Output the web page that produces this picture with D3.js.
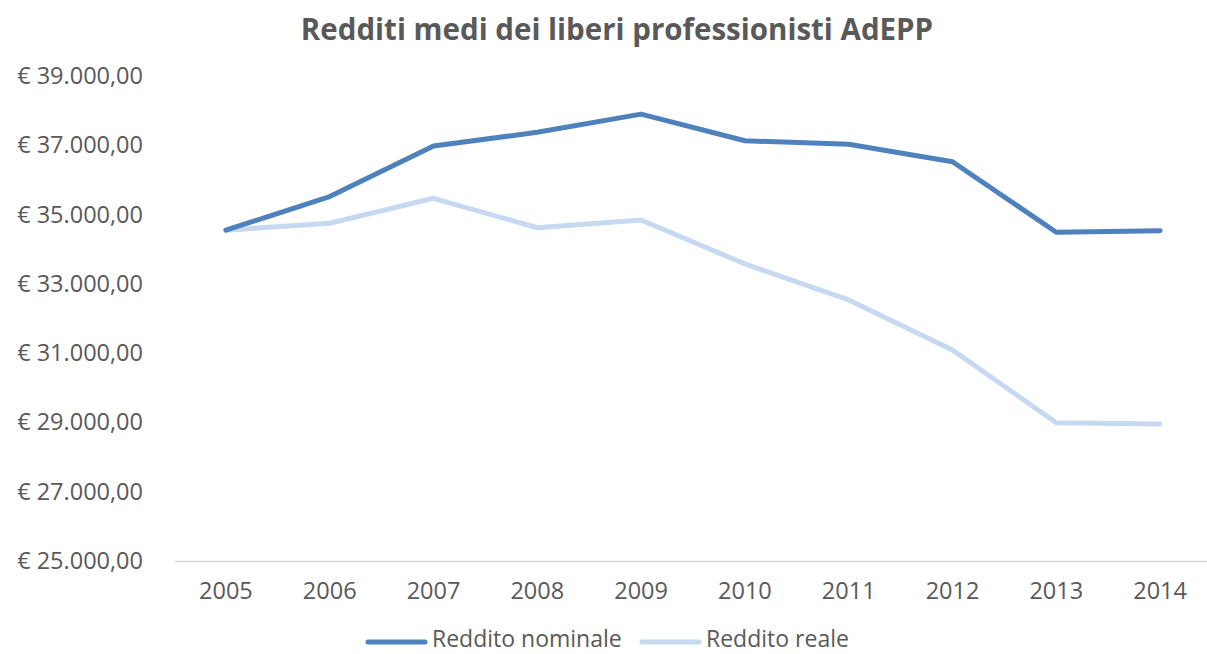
<!DOCTYPE html>
<html>
<head>
<meta charset="utf-8">
<script src="https://cdn.jsdelivr.net/npm/d3@7"></script>
<style>
  html, body { margin: 0; padding: 0; background: #fff; }
  svg { display: block; font-family: "Open Sans", sans-serif; }
</style>
</head>
<body>
<svg id="chart" width="1207" height="654"></svg>
<script>
const years = ["2005","2006","2007","2008","2009","2010","2011","2012","2013","2014"];
const nominale = [34550, 35520, 36980, 37375, 37900, 37130, 37030, 36525, 34490, 34535];
const reale = [34550, 34750, 35470, 34620, 34845, 33575, 32535, 31090, 28990, 28955];
const yTicks = [25000, 27000, 29000, 31000, 33000, 35000, 37000, 39000];
const seriesNames = ["Reddito nominale", "Reddito reale"];
const seriesColors = ["#4F81BD", "#C6D9F0"];

const svg = d3.select("#chart");
const textColor = "#595959";

const x = d3.scaleBand().domain(years).range([174, 1212]);
const y = d3.scaleLinear().domain([25000, 39000]).range([561, 76]);

const fmt = v => "€ " + d3.format(",.2f")(v).replace(/,/g, "#").replace(/\./g, ",").replace(/#/g, ".");

// title
svg.append("text")
  .attr("x", 617).attr("y", 40)
  .attr("text-anchor", "middle")
  .attr("font-size", 29.5).attr("font-weight", "bold")
  .attr("fill", textColor)
  .text("Redditi medi dei liberi professionisti AdEPP");

// y axis labels
const yAxis = d3.axisLeft(y).tickValues(yTicks).tickFormat(fmt).tickSize(0).tickPadding(0);
const gy = svg.append("g").attr("transform", "translate(143,0)").call(yAxis);
gy.select(".domain").remove();
gy.selectAll("text").attr("font-size", 23.5).attr("fill", textColor).attr("font-family", "Open Sans, sans-serif");

// x axis
const xAxis = d3.axisBottom(x).tickSize(0).tickPadding(21);
const gx = svg.append("g").attr("transform", "translate(0,561)").call(xAxis);
gx.select(".domain").attr("stroke", "#D9D9D9").attr("stroke-width", 1.3);
gx.selectAll("text").attr("font-size", 23.5).attr("fill", textColor).attr("font-family", "Open Sans, sans-serif");

const line = d3.line()
  .x((d, i) => x(years[i]) + x.bandwidth() / 2)
  .y(d => y(d));

[reale, nominale].forEach((data, k) => {
  const idx = k === 0 ? 1 : 0;
  svg.append("path")
    .datum(data)
    .attr("d", line)
    .attr("fill", "none")
    .attr("stroke", seriesColors[idx])
    .attr("stroke-width", 5)
    .attr("stroke-linejoin", "round")
    .attr("stroke-linecap", "round");
});

// legend
const legendX = [368, 642];
seriesNames.forEach((name, i) => {
  const g = svg.append("g").attr("transform", `translate(${legendX[i]},642)`);
  g.append("line").attr("x1", 0).attr("x2", 57).attr("y1", 0).attr("y2", 0)
    .attr("stroke", seriesColors[i]).attr("stroke-width", 5).attr("stroke-linecap", "round");
  g.append("text").attr("x", 64).attr("y", 4.5)
    .attr("font-size", 23).attr("fill", textColor).text(name);
});
</script>
</body>
</html>
